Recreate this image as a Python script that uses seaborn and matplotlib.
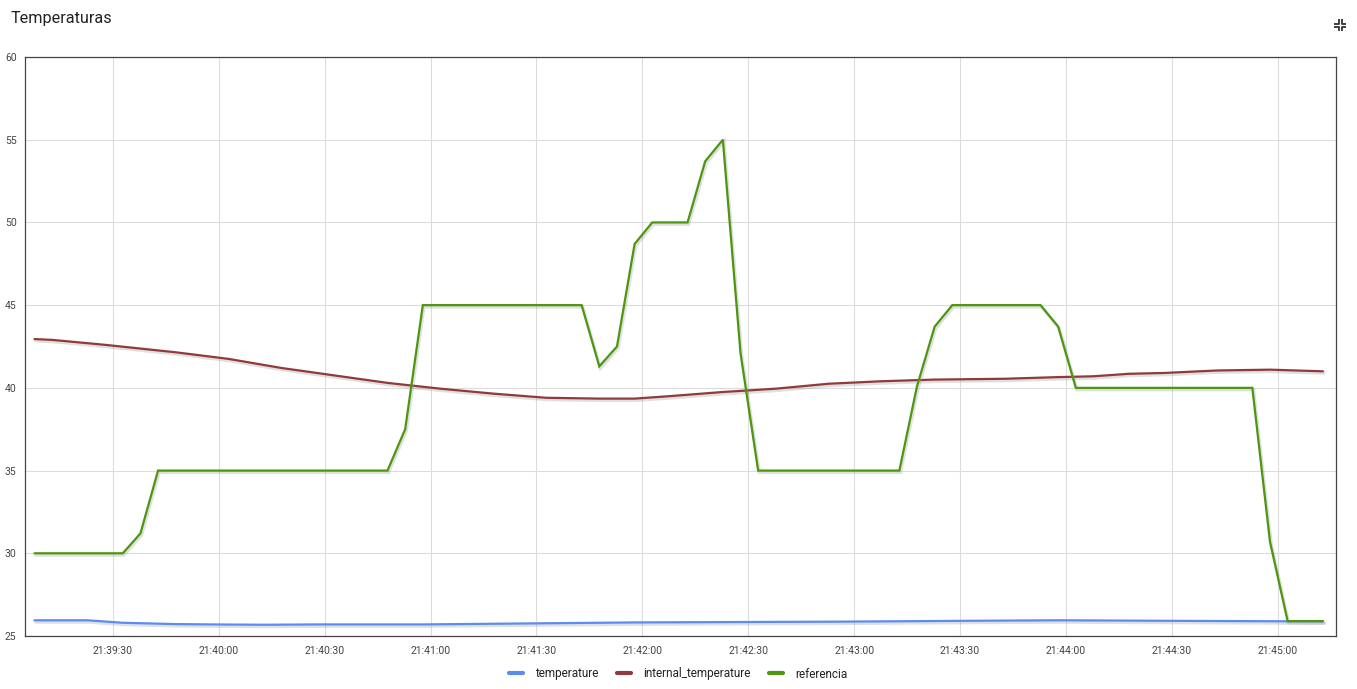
import numpy as np
import pandas as pd
import matplotlib
matplotlib.use("Agg")
import matplotlib.pyplot as plt
import matplotlib.dates as mdates
import matplotlib.patheffects as pe
from matplotlib.lines import Line2D
import seaborn as sns

# ---------------- data (sample index: one sample every 5 s from 21:39:07.8) ----------------
series_names = ["temperature", "internal_temperature", "referencia"]
series_colors = ["#5b8def", "#8f3b3b", "#4e960f"]

temp_idx = [0, 3, 5, 8, 10, 13, 16, 22, 28, 34, 46, 53, 58, 64, 73]
temp_val = [25.95, 25.95, 25.8, 25.72, 25.7, 25.68, 25.7, 25.7, 25.76, 25.82, 25.87, 25.92, 25.95, 25.92, 25.88]

int_idx = [0, 1, 4, 8, 11, 14, 17, 20, 23, 26, 29, 32, 34, 36, 39, 42, 45, 48, 51, 55, 58, 60, 62, 64, 67, 70, 73]
int_val = [42.95, 42.9, 42.6, 42.15, 41.75, 41.2, 40.75, 40.3, 39.95, 39.65, 39.4, 39.35, 39.35, 39.5,
           39.75, 39.95, 40.25, 40.4, 40.5, 40.55, 40.65, 40.7, 40.85, 40.9, 41.05, 41.1, 41.0]

ref_idx = [0, 5, 6, 7, 20, 21, 22, 31, 32, 33, 34, 35, 37, 38, 39, 40, 41, 49, 50, 51, 52, 57, 58, 59, 69, 70, 71, 73]
ref_val = [30, 30, 31.2, 35, 35, 37.5, 45, 45, 41.3, 42.5, 48.7, 50, 50, 53.7, 55, 42.1, 35, 35, 40.1,
           43.7, 45, 45, 43.7, 40, 40, 30.7, 25.9, 25.9]

y_ticks = [25, 30, 35, 40, 45, 50, 55, 60]
start_time = "2024-01-01 21:39:07.8"
x_min = "2024-01-01 21:39:05.1"
x_max = "2024-01-01 21:45:16.5"
sample_seconds = 5

# ---------------- build long-form table ----------------
t0 = pd.Timestamp(start_time)
rows = []
for name, idx, vals in zip(series_names, [temp_idx, int_idx, ref_idx], [temp_val, int_val, ref_val]):
    for i, v in zip(idx, vals):
        rows.append({"series": name, "time": t0 + pd.Timedelta(seconds=sample_seconds * i), "value": v})
df = pd.DataFrame(rows)

# ---------------- style ----------------
sns.set_style("white")
plt.rcParams["font.family"] = ["Roboto", "DejaVu Sans"]

fig = plt.figure(figsize=(13.57, 6.89), dpi=100)
ax = fig.add_axes([25 / 1357, 1 - 636 / 689, (1336 - 25) / 1357, (636 - 57) / 689])

palette = dict(zip(series_names, series_colors))
sns.lineplot(data=df, x="time", y="value", hue="series", palette=palette, estimator=None,
             sort=False, linewidth=1.6, legend=False, ax=ax)

shadow = [pe.SimpleLineShadow(offset=(0.8, -1.3), shadow_color="#999999", alpha=0.3, linewidth=2.4),
          pe.Normal()]
for ln in ax.get_lines():
    ln.set_path_effects(shadow)
    ln.set_solid_joinstyle("miter")

ax.set_xlim(pd.Timestamp(x_min), pd.Timestamp(x_max))
ax.set_ylim(25, 60)
ax.set_yticks(y_ticks)
ax.xaxis.set_major_locator(mdates.SecondLocator(bysecond=[0, 30]))
ax.xaxis.set_major_formatter(mdates.DateFormatter("%H:%M:%S"))
ax.set_xlabel("")
ax.set_ylabel("")

ax.grid(True, color="#dcdcdc", linewidth=0.8)
ax.set_axisbelow(True)
for s in ax.spines.values():
    s.set_color("#444444")
    s.set_linewidth(0.9)
ax.tick_params(axis="both", length=0, labelsize=7.5, labelcolor="#444444")
ax.tick_params(axis="y", pad=6)
ax.tick_params(axis="x", pad=7)

# title
fig.text(11 / 1357, 1 - 19 / 689, "Temperaturas", fontsize=11.7, color="#222222", va="center", ha="left")

# legend
handles = [Line2D([0], [0], color=c, linewidth=3) for c in series_colors]
fig.legend(handles, series_names, loc="center", bbox_to_anchor=(678 / 1357, 1 - 674 / 689), ncol=3,
           frameon=False, fontsize=8.5, handlelength=1.2, handletextpad=1.0, columnspacing=1.6,
           labelcolor="#222222")

# compress icon (top right)
W, H = 1357, 689
def fl(xs, ys):
    fig.add_artist(Line2D([x / W for x in xs], [1 - y / H for y in ys], color="#333333",
                          linewidth=1.3, transform=fig.transFigure, solid_capstyle="butt"))
fl([1334, 1338.5, 1338.5], [23.5, 23.5, 19])
fl([1341.5, 1341.5, 1346], [19, 23.5, 23.5])
fl([1334, 1338.5, 1338.5], [27, 27, 31])
fl([1341.5, 1341.5, 1346], [31, 27, 27])

fig.savefig("out.png", dpi=100, facecolor="white")
